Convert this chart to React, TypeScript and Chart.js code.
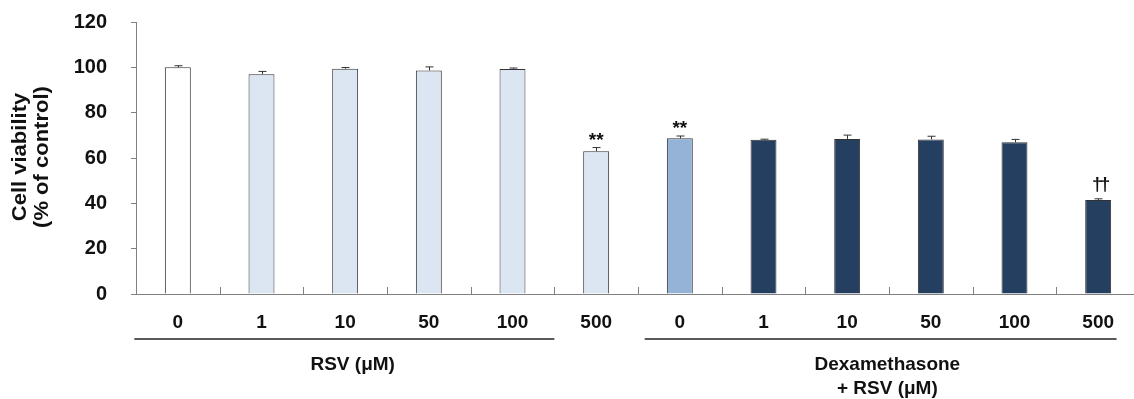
import React, { useEffect, useRef } from "react";
import { Chart, registerables } from "chart.js";

Chart.register(...registerables);

const categories = ["0", "1", "10", "50", "100", "500", "0", "1", "10", "50", "100", "500"];
const viability = [100, 97.0, 99.4, 98.6, 99.3, 63.0, 68.7, 68.0, 68.4, 68.2, 67.0, 41.5];
const errors = [0.7, 1.2, 0.5, 1.6, 0.4, 1.6, 1.0, 0.3, 1.7, 1.4, 1.2, 0.5];
const markers = ["", "", "", "", "", "**", "**", "", "", "", "", "††"];
const barColors = [
  "#ffffff",
  "#dce6f2", "#dce6f2", "#dce6f2", "#dce6f2", "#dce6f2",
  "#95b3d7",
  "#243f60", "#243f60", "#243f60", "#243f60", "#243f60",
];
const yTicks = [0, 20, 40, 60, 80, 100, 120];
const groupLabels = [["RSV (μM)"], ["Dexamethasone", "+ RSV (μM)"]];
const yTitle = ["Cell viability", "(% of control)"];

const FONT = "'Liberation Sans', Arial, Helvetica, sans-serif";

const decorPlugin = {
  id: "decor",
  afterDatasetsDraw(chart: any) {
    const { ctx, scales, chartArea } = chart;
    const x = scales.x;
    const y = scales.y;
    const step = x.getPixelForValue(1) - x.getPixelForValue(0);
    ctx.save();
    // error bars
    ctx.strokeStyle = "#333333";
    ctx.lineWidth = 1;
    viability.forEach((v, i) => {
      const px = Math.round(x.getPixelForValue(i)) + 0.5;
      const top = y.getPixelForValue(v + errors[i]);
      const base = y.getPixelForValue(v);
      ctx.beginPath();
      ctx.moveTo(px, base);
      ctx.lineTo(px, top);
      ctx.moveTo(px - 4, top);
      ctx.lineTo(px + 4, top);
      ctx.stroke();
    });
    // significance markers
    ctx.fillStyle = "#111111";
    ctx.font = `bold 19px ${FONT}`;
    ctx.textAlign = "center";
    ctx.textBaseline = "alphabetic";
    markers.forEach((m, i) => {
      if (!m) return;
      const px = x.getPixelForValue(i);
      const top = y.getPixelForValue(viability[i] + errors[i]);
      const isStar = m.includes("*");
      const off = isStar ? 2 : 9;
      (ctx as any).letterSpacing = isStar ? "0px" : "-3px";
      ctx.fillText(m, px - (isStar ? 0 : -1.5), top - off);
    });
    (ctx as any).letterSpacing = "0px";
    // inward ticks on x axis at category boundaries
    ctx.strokeStyle = "#808080";
    ctx.lineWidth = 1;
    for (let i = 1; i < categories.length; i++) {
      const bx = Math.round(x.getPixelForValue(i) - step / 2) + 0.5;
      ctx.beginPath();
      ctx.moveTo(bx, chartArea.bottom);
      ctx.lineTo(bx, chartArea.bottom - 7);
      ctx.stroke();
    }
    // group lines
    const valToPx = (v: number) => x.getPixelForValue(0) + v * step;
    ctx.strokeStyle = "#595959";
    ctx.lineWidth = 2;
    const spans = [[-0.52, 4.5], [5.58, 11.22]];
    spans.forEach(([a, b]) => {
      ctx.beginPath();
      ctx.moveTo(valToPx(a), 339);
      ctx.lineTo(valToPx(b), 339);
      ctx.stroke();
    });
    // group labels
    ctx.fillStyle = "#111111";
    ctx.textBaseline = "middle";
    const centers = [2.09, 8.48];
    groupLabels.forEach((lines, g) => {
      lines.forEach((t, k) => {
        ctx.fillText(t, valToPx(centers[g]), 365 + k * 24);
      });
    });
    // y title
    ctx.save();
    ctx.translate(0, 157);
    ctx.rotate(-Math.PI / 2);
    ctx.font = `bold 20px ${FONT}`;
    ctx.textAlign = "center";
    ctx.textBaseline = "middle";
    ctx.scale(1.1, 1);
    yTitle.forEach((t, k) => {
      ctx.fillText(t, 0, 20 + k * 22);
    });
    ctx.restore();
    ctx.restore();
  },
};

export default function App() {
  const ref = useRef<HTMLCanvasElement>(null);
  useEffect(() => {
    if (!ref.current) return;
    Chart.defaults.font.family = FONT;
    const chart = new Chart(ref.current, {
      type: "bar",
      data: {
        labels: categories,
        datasets: [
          {
            data: viability,
            backgroundColor: barColors,
            borderColor: "#333333",
            borderWidth: 1,
            borderSkipped: "bottom",
            barPercentage: 0.31,
            categoryPercentage: 1,
          },
        ],
      },
      options: {
        animation: false,
        responsive: true,
        maintainAspectRatio: false,
        events: [],
        layout: { padding: { top: 22, left: 0, right: 0, bottom: 0 } },
        plugins: {
          legend: { display: false },
          tooltip: { enabled: false },
          title: { display: false },
        },
        scales: {
          x: {
            offset: true,
            grid: { display: false, drawTicks: false },
            border: { display: true, color: "#808080", width: 1 },
            ticks: {
              color: "#111111",
              font: { size: 19, weight: "bold", family: FONT },
              padding: 17,
              maxRotation: 0,
              autoSkip: false,
            },
            afterFit: (s: any) => {
              s.height = 105;
            },
          },
          y: {
            min: 0,
            max: 120,
            afterBuildTicks: (s: any) => {
              s.ticks = yTicks.map((v) => ({ value: v }));
            },
            grid: {
              display: true,
              drawOnChartArea: false,
              drawTicks: true,
              tickLength: 5,
              color: "#808080",
            },
            border: { display: true, color: "#808080", width: 1 },
            ticks: {
              color: "#111111",
              font: { size: 20, weight: "bold", family: FONT },
              padding: 24,
            },
            afterFit: (s: any) => {
              s.width = 136;
              s.paddingTop = 0;
              s.paddingBottom = 0;
            },
          },
        },
      },
      plugins: [decorPlugin],
    });
    return () => chart.destroy();
  }, []);
  return (
    <div
      style={{
        position: "fixed",
        left: 0,
        top: 0,
        width: 1134,
        height: 399,
        overflow: "hidden",
        background: "#ffffff",
      }}
    >
      <div style={{ position: "relative", width: 1140, height: 399 }}>
        <canvas ref={ref} />
      </div>
    </div>
  );
}
